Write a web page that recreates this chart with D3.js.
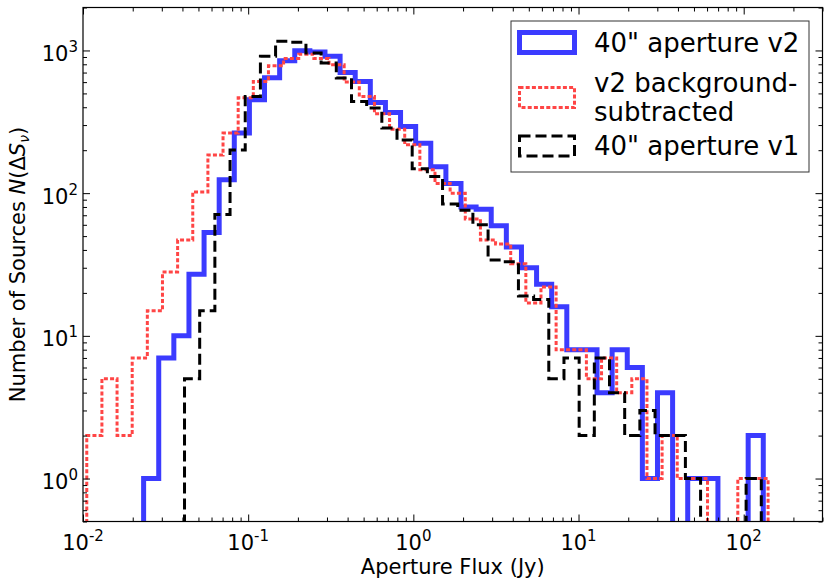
<!DOCTYPE html>
<html>
<head>
<meta charset="utf-8">
<script src="https://cdn.jsdelivr.net/npm/d3@7"></script>
<style>
	body { margin: 0; background: #fff; }
	svg { display: block; font-family: "DejaVu Sans", sans-serif; }
</style>
</head>
<body>
<svg id="chart" width="830" height="587"></svg>
<script>
// counts per bin
var blueCounts = [1,7,10,27,53,124,264,451,645,848,997,977,909,700,607,432,367,293,224,153,
	117,80,77,59,42,30,23,16,8,8,4,8,6,1,4,0,1,1,0,0,2];
var redCounts = [2,5,2,7,15,28,47,102,185,264,466,607,780,880,940,880,794,600,476,360,
	280,218,146,117,100,66,47,44,32,17,22,8,8,5,7,4,5,1,2,1,1,0,0,1,1];
var blackCounts = [5,15,71,201,476,909,1159,1140,960,817,641,439,395,286,236,148,131,84,76,60,
	34,33,19,18,5,7,2,7,4,2,3,2,2,1,0,0,0,1];

// outer bin edges in Jy, bins evenly spaced in log between them
var blueRange = [0.02328, 131.4];
var redRange = [0.01054, 140.5];
var blackRange = [0.04117, 127.8];

var legendLabels = [['40" aperture v2'], ['v2 background-', 'subtracted'], ['40" aperture v1']];
var xTickExps = [-2, -1, 0, 1, 2];
var yTickExps = [0, 1, 2, 3];

(function(){
	var svg = d3.select("#chart");
	// plot box (window.top is reserved, hence the prefix)
	var pL = 83, pR = 822.5, pT = 7.5, pB = 521.5;

	var x = d3.scaleLog().domain([0.01, 300]).range([pL, pR]);
	var y = d3.scaleLog().domain([0.5, 2000]).range([pB, pT]);

	svg.append("rect").attr("width", 830).attr("height", 587).attr("fill", "#fff");

	svg.append("clipPath").attr("id", "plot-clip")
		.append("rect")
		.attr("x", pL).attr("y", pT)
		.attr("width", pR - pL).attr("height", pB - pT);

	function _edges(range, n){
		var lo = Math.log10(range[0]), hi = Math.log10(range[1]);
		return d3.range(n + 1).map(function(i){
			return Math.pow(10, lo + i * (hi - lo) / n);
		});
	}

	// step outline like a log-scale 'step' histogram; empty bins drop below the axis
	function _stepPoints(counts, range){
		var e = _edges(range, counts.length);
		var yOf = function(c){ return c > 0 ? y(c) : pB + 20; };
		var pts = [[x(e[0]), pB + 20]];
		counts.forEach(function(c, i){
			pts.push([x(e[i]), yOf(c)]);
			pts.push([x(e[i + 1]), yOf(c)]);
		});
		pts.push([x(e[e.length - 1]), pB + 20]);
		return pts;
	}

	var series = [
		{ counts: blueCounts, range: blueRange, color: "#3b3bff", width: 5, dash: null },
		{ counts: redCounts, range: redRange, color: "#ff4545", width: 3, dash: "4,2.2" },
		{ counts: blackCounts, range: blackRange, color: "#000", width: 3, dash: "11,5" }
	];

	var line = d3.line();
	var plot = svg.append("g").attr("clip-path", "url(#plot-clip)");

	series.forEach(function(s){
		plot.append("path")
			.attr("d", line(_stepPoints(s.counts, s.range)))
			.attr("fill", "none")
			.attr("stroke", s.color)
			.attr("stroke-width", s.width)
			.attr("stroke-dasharray", s.dash)
			.attr("stroke-linejoin", "miter");
	});

	// ticks, all pointing inward on the four sides
	function _minor(domain){
		var out = [];
		for (var e = -3; e <= 3; e++){
			for (var m = 2; m <= 9; m++){
				var v = m * Math.pow(10, e);
				if (v >= domain[0] && v <= domain[1]) out.push(v);
			}
		}
		return out;
	}

	var xMajor = xTickExps.map(function(e){ return Math.pow(10, e); });
	var yMajor = yTickExps.map(function(e){ return Math.pow(10, e); });

	function _tickAxis(axisFn, scale, values, size, transform){
		var g = svg.append("g").attr("transform", transform)
			.call(axisFn(scale).tickValues(values).tickSize(size).tickFormat(""));
		g.select("path").remove();
		g.selectAll(".tick line").attr("stroke", "#000").attr("stroke-width", 1);
	}

	_tickAxis(d3.axisBottom, x, xMajor, -7, "translate(0," + pB + ")");
	_tickAxis(d3.axisBottom, x, _minor(x.domain()), -4, "translate(0," + pB + ")");
	_tickAxis(d3.axisTop, x, xMajor, -7, "translate(0," + pT + ")");
	_tickAxis(d3.axisTop, x, _minor(x.domain()), -4, "translate(0," + pT + ")");
	_tickAxis(d3.axisLeft, y, yMajor, -7, "translate(" + pL + ",0)");
	_tickAxis(d3.axisLeft, y, _minor(y.domain()), -4, "translate(" + pL + ",0)");
	_tickAxis(d3.axisRight, y, yMajor, -7, "translate(" + pR + ",0)");
	_tickAxis(d3.axisRight, y, _minor(y.domain()), -4, "translate(" + pR + ",0)");

	svg.append("rect")
		.attr("x", pL).attr("y", pT)
		.attr("width", pR - pL).attr("height", pB - pT)
		.attr("fill", "none").attr("stroke", "#000").attr("stroke-width", 1.2);

	// tick labels as 10 with a superscript exponent
	function _powLabel(sel, exp){
		sel.append("tspan").text("10");
		sel.append("tspan").attr("font-size", 15).attr("dy", -9).text(exp);
	}

	xTickExps.forEach(function(e){
		var t = svg.append("text")
			.attr("x", x(Math.pow(10, e))).attr("y", 549.5)
			.attr("text-anchor", "middle").attr("font-size", 21);
		_powLabel(t, e);
	});

	yTickExps.forEach(function(e){
		var t = svg.append("text")
			.attr("x", 78).attr("y", y(Math.pow(10, e)) + 10.5)
			.attr("text-anchor", "end").attr("font-size", 21);
		_powLabel(t, e);
	});

	svg.append("text")
		.attr("x", (pL + pR) / 2).attr("y", 574)
		.attr("text-anchor", "middle").attr("font-size", 21)
		.text("Aperture Flux (Jy)");

	var yt = svg.append("text")
		.attr("transform", "translate(24.5," + ((pT + pB) / 2) + ") rotate(-90)")
		.attr("text-anchor", "middle").attr("font-size", 21);
	yt.append("tspan").text("Number of Sources ");
	yt.append("tspan").attr("font-style", "italic").text("N");
	yt.append("tspan").text("(\u0394");
	yt.append("tspan").attr("font-style", "italic").text("S");
	yt.append("tspan").attr("font-style", "italic").attr("font-size", 14).attr("dy", 4).text("\u03bd");
	yt.append("tspan").attr("dy", -4).text(")");

	// legend
	var lg = svg.append("g");
	lg.append("rect")
		.attr("x", 511).attr("y", 21).attr("width", 298).attr("height", 151)
		.attr("fill", "#fff").attr("stroke", "#333").attr("stroke-width", 1);

	var patchY = [32.5, 87.5, 136];
	var textY = [[51.7], [91.7, 120.7], [155]];

	series.forEach(function(s, i){
		lg.append("rect")
			.attr("x", 519.5).attr("y", patchY[i]).attr("width", 55).attr("height", 20)
			.attr("fill", "none")
			.attr("stroke", s.color)
			.attr("stroke-width", s.width)
			.attr("stroke-dasharray", s.dash);
		legendLabels[i].forEach(function(str, j){
			lg.append("text")
				.attr("x", 594).attr("y", textY[i][j])
				.attr("font-size", 26)
				.text(str);
		});
	});
})();
</script>
</body>
</html>
